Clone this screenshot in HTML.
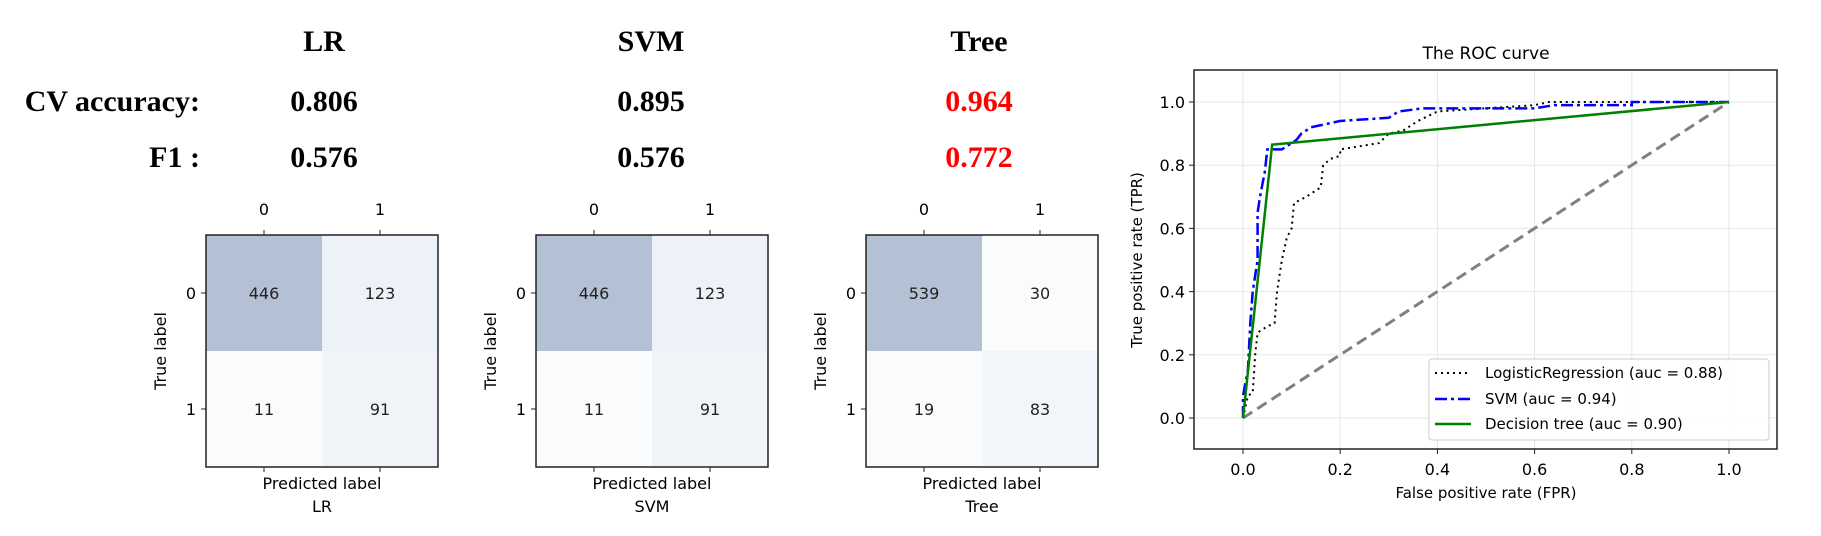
<!DOCTYPE html>
<html><head><meta charset="utf-8"><style>
html,body{margin:0;padding:0;background:#fff;}
svg text{font-family:"DejaVu Sans","Liberation Sans",sans-serif;}
</style></head><body>
<svg id="page" width="1821" height="531" viewBox="0 0 1821 531" xmlns="http://www.w3.org/2000/svg">
<g text-anchor="middle">
<text x="324" y="51" style="font-family:'Liberation Serif',serif;font-weight:bold;font-size:30px">LR</text>
<text x="651" y="51" style="font-family:'Liberation Serif',serif;font-weight:bold;font-size:30px">SVM</text>
<text x="979" y="51" style="font-family:'Liberation Serif',serif;font-weight:bold;font-size:30px">Tree</text>
<text x="200" y="111" text-anchor="end" style="font-family:'Liberation Serif',serif;font-weight:bold;font-size:30px">CV accuracy:</text>
<text x="324" y="111" style="font-family:'Liberation Serif',serif;font-weight:bold;font-size:30px">0.806</text>
<text x="651" y="111" style="font-family:'Liberation Serif',serif;font-weight:bold;font-size:30px">0.895</text>
<text x="979" y="111" fill="#ff0000" style="font-family:'Liberation Serif',serif;font-weight:bold;font-size:30px">0.964</text>
<text x="200" y="167" text-anchor="end" style="font-family:'Liberation Serif',serif;font-weight:bold;font-size:30px">F1 :</text>
<text x="324" y="167" style="font-family:'Liberation Serif',serif;font-weight:bold;font-size:30px">0.576</text>
<text x="651" y="167" style="font-family:'Liberation Serif',serif;font-weight:bold;font-size:30px">0.576</text>
<text x="979" y="167" fill="#ff0000" style="font-family:'Liberation Serif',serif;font-weight:bold;font-size:30px">0.772</text>
</g>
<g id="cms"></g>
<g id="roc"></g>
</svg>
<script>
// Confusion matrices
const cmNames = ['LR','SVM','Tree'];
const cmValues = [[446,123,11,91],[446,123,11,91],[539,30,19,83]];
const cmColors = [['#b4c0d3','#edf2f9','#f9fbfd','#f0f4f9'],['#b4c0d3','#edf2f9','#f9fbfd','#f0f4f9'],['#b4c0d3','#fafbfd','#f9fbfd','#f2f5fa']];
const cmLeft = [206,536,866];
// ROC data
const lrX = [0,0.01,0.02,0.025,0.03,0.05,0.065,0.07,0.08,0.09,0.1,0.105,0.13,0.16,0.165,0.18,0.2,0.2,0.24,0.28,0.3,0.33,0.36,0.4,0.5,0.6,0.63,1];
const lrY = [0,0.07,0.08,0.2,0.27,0.29,0.3,0.4,0.5,0.57,0.6,0.68,0.7,0.73,0.8,0.82,0.83,0.85,0.86,0.87,0.9,0.91,0.94,0.97,0.98,0.99,1.0,1];
const svmX = [0,0,0.01,0.015,0.02,0.03,0.03,0.035,0.045,0.05,0.08,0.09,0.11,0.12,0.14,0.17,0.2,0.3,0.32,0.37,0.6,0.64,0.8,0.8,1];
const svmY = [0,0.07,0.15,0.3,0.4,0.5,0.65,0.7,0.78,0.85,0.85,0.86,0.88,0.9,0.92,0.93,0.94,0.95,0.97,0.98,0.98,0.99,0.99,1.0,1];
const treeX = [0,0.06,1];
const treeY = [0,0.865,1];
const xTicks = [0,0.2,0.4,0.6,0.8,1.0];
const yTicks = [0,0.2,0.4,0.6,0.8,1.0];
const NS='http://www.w3.org/2000/svg';
function mk(tag,attrs,parent,txt){const e=document.createElementNS(NS,tag);for(const k in attrs)e.setAttribute(k,attrs[k]);if(txt!==undefined)e.textContent=txt;parent.appendChild(e);return e;}
const cms=document.getElementById('cms');
cmNames.forEach((nm,i)=>{
  const g=mk('g',{},cms);
  
  
  const L=cmLeft[i],T=235,W=232,H=232,cw=W/2,ch=H/2;
  for(let k=0;k<4;k++){
    const r=Math.floor(k/2),c=k%2;
    const rc=mk('rect',{x:L+c*cw,y:T+r*ch,width:cw,height:ch,fill:cmColors[i][k]},g);
    
    
    const t=mk('text',{x:L+c*cw+cw/2,y:T+r*ch+ch/2+6,'text-anchor':'middle','font-size':16,fill:'#222'},g,cmValues[i][k]);
    
    
  }
  mk('rect',{x:L,y:T,width:W,height:H,fill:'none',stroke:'#222','stroke-width':1.5},g);
  for(let c=0;c<2;c++){
    const x=L+c*cw+cw/2;
    mk('line',{x1:x,y1:T,x2:x,y2:T-5,stroke:'#222'},g);
    mk('line',{x1:x,y1:T+H,x2:x,y2:T+H+5,stroke:'#222'},g);
    const t=mk('text',{x:x,y:215,'text-anchor':'middle','font-size':16},g,String(c));
    
    
    const y=T+c*ch+ch/2;
    mk('line',{x1:L,y1:y,x2:L-5,y2:y,stroke:'#222'},g);
    const t2=mk('text',{x:L-10,y:y+6,'text-anchor':'end','font-size':16},g,String(c));
    
    
  }
  const yl=mk('text',{x:0,y:0,'text-anchor':'middle','font-size':16,transform:`translate(${L-40},${T+H/2}) rotate(-90)`},g,'True label');
  
  
  const xl=mk('text',{x:L+W/2,y:489,'text-anchor':'middle','font-size':16},g,'Predicted label');
  
  
  const nl=mk('text',{x:L+W/2,y:512,'text-anchor':'middle','font-size':16},g,nm);
  
  
});
// ROC
const roc=document.getElementById('roc');


const AL=1194,AR=1777,AT=70,AB=449;
const sx=v=>1243+v*(1729-1243), sy=v=>418-v*(418-102);
xTicks.forEach(v=>{
  mk('line',{x1:sx(v),y1:AT,x2:sx(v),y2:AB,stroke:'#e6e6e6'},roc);
  mk('line',{x1:sx(v),y1:AB,x2:sx(v),y2:AB+5,stroke:'#222'},roc);
  const t=mk('text',{x:sx(v),y:475,'text-anchor':'middle','font-size':16},roc,v.toFixed(1));
  
  
});
yTicks.forEach(v=>{
  mk('line',{x1:AL,y1:sy(v),x2:AR,y2:sy(v),stroke:'#e6e6e6'},roc);
  mk('line',{x1:AL,y1:sy(v),x2:AL-5,y2:sy(v),stroke:'#222'},roc);
  const t=mk('text',{x:AL-9,y:sy(v)+6,'text-anchor':'end','font-size':16},roc,v.toFixed(1));
  
  
});
const diag=mk('line',{x1:sx(0),y1:sy(0),x2:sx(1),y2:sy(1),stroke:'#808080','stroke-width':3,'stroke-dasharray':'11,6'},roc);


function poly(xs,ys,attrs,name){
  const p=mk('polyline',Object.assign({points:xs.map((x,i)=>sx(x)+','+sy(ys[i])).join(' '),fill:'none'},attrs),roc);
  
  
}
poly(lrX,lrY,{stroke:'#000','stroke-width':2,'stroke-dasharray':'2,4'},'lr-curve');
poly(svmX,svmY,{stroke:'#0000ff','stroke-width':2.5,'stroke-dasharray':'12,4,3,4'},'svm-curve');
poly(treeX,treeY,{stroke:'#008000','stroke-width':2.5},'tree-curve');
mk('rect',{x:AL,y:AT,width:AR-AL,height:AB-AT,fill:'none',stroke:'#222','stroke-width':1.5},roc);
const tt=mk('text',{x:1486,y:59,'text-anchor':'middle','font-size':17},roc,'The ROC curve');


const xt=mk('text',{x:1486,y:498,'text-anchor':'middle','font-size':15},roc,'False positive rate (FPR)');


const yt=mk('text',{x:0,y:0,'text-anchor':'middle','font-size':15,transform:'translate(1142,260) rotate(-90)'},roc,'True positive rate (TPR)');


const lg=mk('g',{},roc);


mk('rect',{x:1429,y:359,width:340,height:81,rx:3,fill:'#fff','fill-opacity':0.85,stroke:'#ccc'},lg);
const legNames=['LogisticRegression (auc = 0.88)','SVM (auc = 0.94)','Decision tree (auc = 0.90)'];
const legStyles=[{stroke:'#000','stroke-width':2,'stroke-dasharray':'2,4'},{stroke:'#0000ff','stroke-width':2.5,'stroke-dasharray':'12,4,3,4'},{stroke:'#008000','stroke-width':2.5}];
const legY=[373,399,424];
legNames.forEach((n,i)=>{
  mk('line',Object.assign({x1:1435,y1:legY[i],x2:1471,y2:legY[i]},legStyles[i]),lg);
  const t=mk('text',{x:1485,y:legY[i]+5,'font-size':15},lg,n);
  
  
});
</script>
</body></html>
